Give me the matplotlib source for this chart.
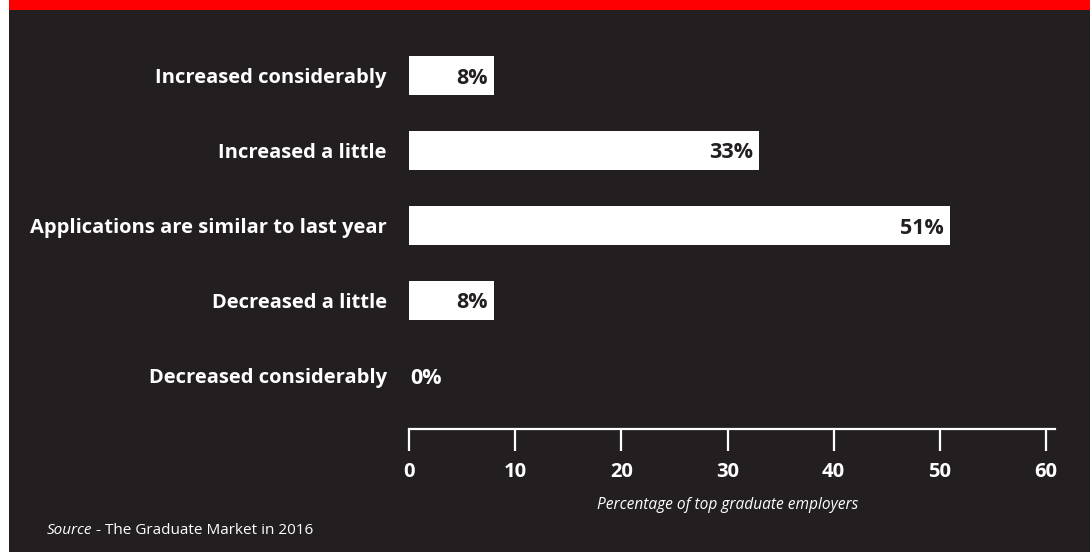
import matplotlib
matplotlib.use("Agg")
import matplotlib.pyplot as plt

categories = [
    "Increased considerably",
    "Increased a little",
    "Applications are similar to last year",
    "Decreased a little",
    "Decreased considerably",
]
values = [8, 33, 51, 8, 0]
x_ticks = [0, 10, 20, 30, 40, 50, 60]
x_title = "Percentage of top graduate employers"
source_label = "Source"
source_text = " - The Graduate Market in 2016"

BG = "#231f20"
RED = "#ff0000"
FONT = "Open Sans"

W, H = 1090, 552
fig = plt.figure(figsize=(W / 100, H / 100), dpi=100)
fig.patch.set_facecolor("white")

def px_rect(x0, y0, x1, y1):
    """Rectangle in pixel coords (top-left origin) -> figure fraction."""
    return [x0 / W, 1 - y1 / H, (x1 - x0) / W, (y1 - y0) / H]

# dark panel with red header strip
panel = fig.add_axes(px_rect(9, 0, W, H))
panel.set_axis_off()
panel.add_patch(plt.Rectangle((0, 0), 1, 1, transform=panel.transAxes,
                              facecolor=BG, edgecolor="none"))
panel.add_patch(plt.Rectangle((0, 1 - 10 / H), 1, 10 / H, transform=panel.transAxes,
                              facecolor=RED, edgecolor="none"))

# chart axes
x0_px, x60_px = 409, 1046
px_per_unit = (x60_px - x0_px) / 60
xmax = (1055 - x0_px) / px_per_unit
ax = fig.add_axes(px_rect(x0_px, 38, 1055, 413))
ax.set_facecolor("none")
ax.set_xlim(0, xmax)
ax.set_ylim(len(categories) - 0.5, -0.5)

ypos = list(range(len(categories)))
ax.barh(ypos, values, height=0.52, color="white", edgecolor="none")

for y, v in zip(ypos, values):
    if v > 0:
        ax.text(v - 0.6, y, f"{v}%", ha="right", va="center_baseline",
                color=BG, fontsize=15.5, fontweight="bold", family=FONT)
    else:
        ax.text(0.15, y, f"{v}%", ha="left", va="center_baseline",
                color="white", fontsize=15.5, fontweight="bold", family=FONT)

ax.set_yticks(ypos)
ax.set_yticklabels(categories, family=FONT, fontweight="bold", fontsize=14.5,
                   color="white")
ax.tick_params(axis="y", length=0, pad=16)

for side in ("top", "right", "left"):
    ax.spines[side].set_visible(False)
ax.spines["bottom"].set_position(("outward", 11.5))
ax.spines["bottom"].set_color("white")
ax.spines["bottom"].set_linewidth(1.6)
ax.set_xticks(x_ticks)
ax.set_xticklabels([str(t) for t in x_ticks], family=FONT, fontweight="bold",
                   fontsize=14.5, color="white")
ax.tick_params(axis="x", direction="out", length=16, width=1.6, color="white",
               pad=8)

ax.set_xlabel(x_title, family=FONT, style="italic", fontsize=11.2, color="white")
ax.xaxis.set_label_coords(30 / xmax, -0.225)

fig.text(47 / W, 1 - 530 / H, source_label, family=FONT, style="italic",
         fontsize=11, color="white", va="center", ha="left")
src = fig.texts[-1]
fig.canvas.draw()
bb = src.get_window_extent()
fig.text(bb.x1 / W, 1 - 530 / H, source_text, family=FONT, fontsize=11,
         color="white", va="center", ha="left")

fig.savefig("out.png", dpi=100, facecolor=fig.get_facecolor())
